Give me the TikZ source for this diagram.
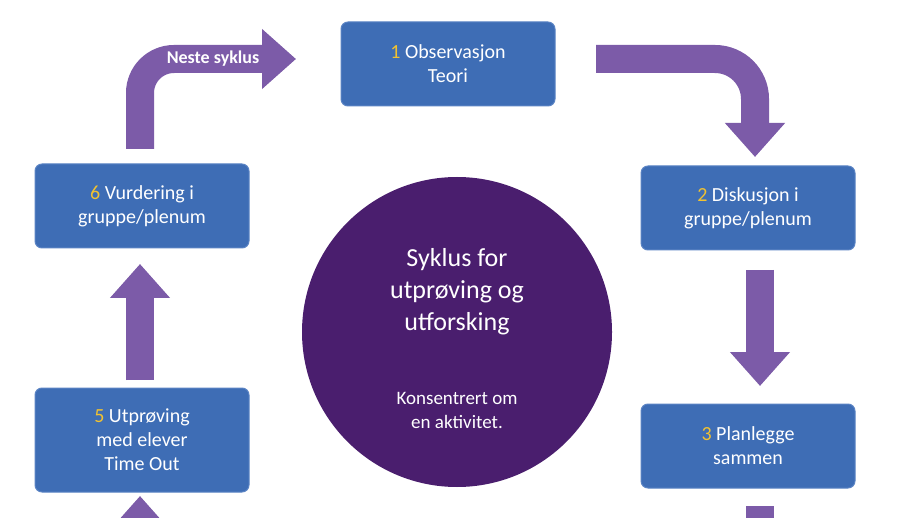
\documentclass[tikz,border=0pt]{standalone}
\usepackage{fontspec}
\setmainfont{Carlito}
\usetikzlibrary{arrows.meta}
\definecolor{boxblue}{HTML}{3E6DB5}
\definecolor{boxedge}{HTML}{5B84C4}
\definecolor{arrowp}{HTML}{7C5BA8}
\definecolor{circp}{HTML}{4A1E6E}
\definecolor{numy}{HTML}{F2C230}
\tikzset{x=1pt,y=-1pt,
 box/.style={draw=boxedge,line width=1pt,fill=boxblue,rounded corners=7pt,minimum width=214pt,minimum height=84pt,text=white,font=\fontsize{20}{24}\selectfont,align=center},
 fat/.style={draw=arrowp,line width=28pt,-{Triangle[width=58pt,length=34pt]}},
 num/.style={text=numy}}
\begin{document}
\begin{tikzpicture}
\useasboundingbox[fill=white] (0,0) rectangle (904,518);
\node[box] (b1) at (448,64) {\textcolor{numy}{1} Observasjon\\Teori};
\node[box] (b2) at (748,208) {\textcolor{numy}{2} Diskusjon i\\gruppe/plenum};
\node[box] (b3) at (748,446) {\textcolor{numy}{3} Planlegge\\sammen};
\node[box,minimum height=104pt] (b5) at (142,440) {\textcolor{numy}{5} Utprøving\\med elever\\Time Out};
\node[box] (b6) at (142,206) {\textcolor{numy}{6} Vurdering i\\gruppe/plenum};
\node[circle,fill=circp,minimum size=310pt,text=white,align=center,font=\fontsize{26}{32}\selectfont] (c) at (457,332) {};
\node[text=white,align=center,font=\fontsize{26}{32}\selectfont] (ct) at (457,292) {Syklus for\\utprøving og\\utforsking};
\node[text=white,align=center,font=\fontsize{19}{24}\selectfont] (cs) at (457,410) {Konsentrert om\\en aktivitet.};
\coordinate (t1) at (140,149);
\coordinate (t1e) at (296,59);
\draw[fat,rounded corners=34pt] (t1) -- (140,59) -- (t1e);
\node[text=white,font=\bfseries\fontsize{18}{22}\selectfont] (ns) at (213,59) {Neste syklus};
\coordinate (t2) at (596,59);
\coordinate (t2e) at (755,157);
\draw[fat,rounded corners=40pt] (t2) -- (755,59) -- (t2e);
\coordinate (r1) at (760,270);
\coordinate (r1e) at (760,386);
\draw[fat] (r1) -- (r1e);
\coordinate (l1) at (140,380);
\coordinate (l1e) at (140,264);
\draw[fat] (l1) -- (l1e);
\coordinate (lb) at (140,540);
\coordinate (lbe) at (140,496);
\draw[fat] (lb) -- (lbe);
\coordinate (rb) at (760,506);
\coordinate (rbe) at (760,540);
\draw[draw=arrowp,line width=28pt] (rb) -- (rbe);
\end{tikzpicture}
\end{document}
